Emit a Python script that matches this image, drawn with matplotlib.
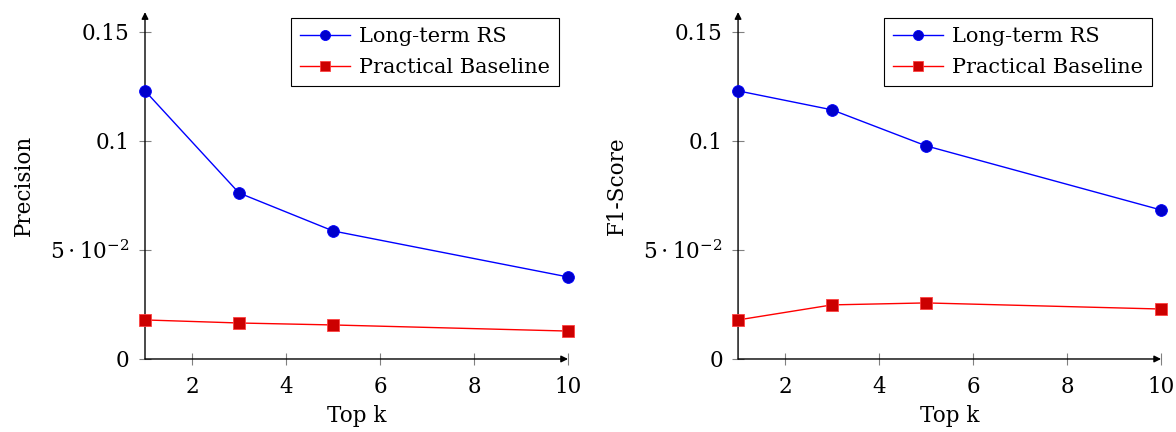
import matplotlib
matplotlib.use("Agg")
import matplotlib.pyplot as plt

plt.rcParams['font.family'] = ['DejaVu Serif']
plt.rcParams['mathtext.fontset'] = 'dejavuserif'
plt.rcParams['font.size'] = 15

top_k = [1, 3, 5, 10]
precision_longterm = [0.1229, 0.0761, 0.0587, 0.0376]
precision_baseline = [0.0179, 0.0165, 0.0156, 0.0128]
f1_longterm = [0.1229, 0.1142, 0.0977, 0.0683]
f1_baseline = [0.0179, 0.0248, 0.0257, 0.0229]

series_names = ["Long-term RS", "Practical Baseline"]
y_ticks = [0, 0.05, 0.1, 0.15]
y_tick_labels = ["0", r"$5\cdot10^{-2}$", "0.1", "0.15"]
x_ticks = [2, 4, 6, 8, 10]

fig = plt.figure(figsize=(11.76, 4.32), dpi=100)
ax1 = fig.add_axes([0.1233, 0.169, 0.3597, 0.803])
ax2 = fig.add_axes([0.6276, 0.169, 0.3597, 0.803])

panels = [
    (ax1, precision_longterm, precision_baseline, "Precision"),
    (ax2, f1_longterm, f1_baseline, "F1-Score"),
]

for ax, lt, bl, ylabel in panels:
    ax.plot(top_k, lt, color="#0000ff", lw=1.0, marker="o", ms=8.5,
            mfc="#0000cc", mec="#0000ff", mew=0.6, label=series_names[0],
            clip_on=False, zorder=3)
    ax.plot(top_k, bl, color="#ff0000", lw=1.0, marker="s", ms=8,
            mfc="#cc0000", mec="#ff4040", mew=0.6, label=series_names[1],
            clip_on=False, zorder=3)
    ax.set_xlim(1, 10)
    ax.set_ylim(0, 0.159)
    ax.set_xticks(x_ticks)
    ax.set_yticks(y_ticks)
    ax.set_yticklabels(y_tick_labels)
    ax.tick_params(direction="inout", length=8, width=0.8, color="#808080",
                   labelsize=15.5)
    ax.tick_params(axis="x", pad=8)
    ax.tick_params(axis="y", pad=7)
    for side in ("top", "right", "left", "bottom"):
        ax.spines[side].set_visible(False)
    arrow = dict(arrowstyle="-|>", color="black", lw=1.0,
                 mutation_scale=10, shrinkA=0, shrinkB=0)
    ax.annotate("", xy=(1.0, 0), xytext=(0, 0), xycoords="axes fraction",
                arrowprops=arrow, zorder=2)
    ax.annotate("", xy=(0, 1.0), xytext=(0, 0), xycoords="axes fraction",
                arrowprops=arrow, zorder=2)
    ax.set_xlabel("Top k", fontsize=15.5, labelpad=5)
    ax.set_ylabel(ylabel, fontsize=15.5, labelpad=11)
    leg = ax.legend(loc="upper right", bbox_to_anchor=(0.979, 0.983),
                    borderaxespad=0, fontsize=15, fancybox=False,
                    edgecolor="black", framealpha=1, handlelength=2.4,
                    borderpad=0.45, labelspacing=0.55, handletextpad=0.4,
                    markerscale=0.85)
    leg.get_frame().set_linewidth(0.8)

fig.savefig("out.png", dpi=100)
